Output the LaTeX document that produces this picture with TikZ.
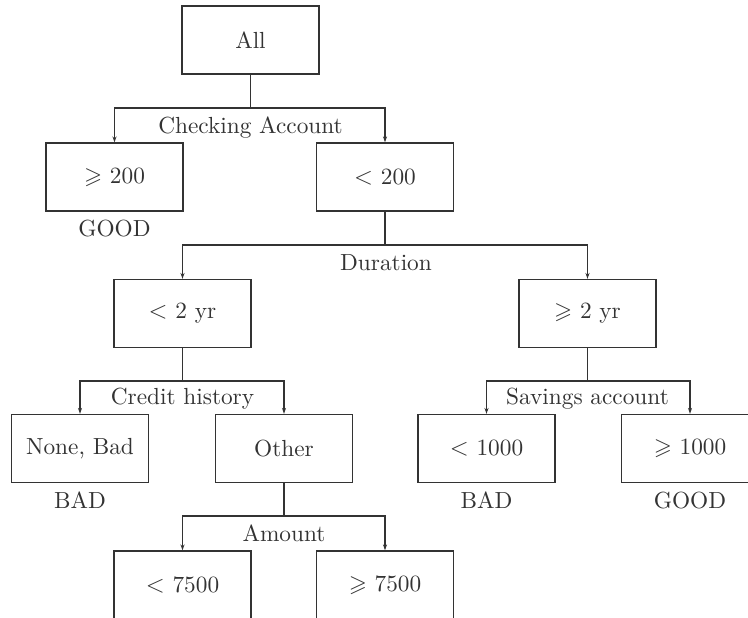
\documentclass[tikz,border=0pt]{standalone}
\usepackage{amssymb}
\usepackage{fontspec}
\setmainfont{lmroman10-regular.otf}
\usetikzlibrary{arrows.meta}
\begin{document}
\begin{tikzpicture}[x=1pt,y=-1pt,
  every node/.style={font=\fontsize{23.3}{28}\selectfont, text=black!80},
  box/.style={draw=black!80, line width=1.1pt, minimum width=137pt, minimum height=68pt, inner sep=0pt},
  lbl/.style={anchor=base, inner sep=0pt},
  conn/.style={draw=black!80, line width=1.1pt},
  arr/.style={conn, -{Stealth[length=6pt,width=4pt]}}]
\useasboundingbox (0,0) rectangle (748,618);
% nodes
\node[box] (all) at (250.5,40) {All};
\node[box] (ge200) at (114.5,177) {$\geqslant$ 200};
\node[box] (lt200) at (385,177) {$<$ 200};
\node[box] (lt2) at (182.5,313.5) {$<$ 2 yr};
\node[box] (ge2) at (587.5,313.5) {$\geqslant$ 2 yr};
\node[box] (nb) at (80,448.5) {None, Bad};
\node[box] (other) at (284,448.5) {Other};
\node[box] (lt1000) at (486.5,448.5) {$<$ 1000};
\node[box] (ge1000) at (690,448.5) {$\geqslant$ 1000};
\node[box] (lt7500) at (182.5,585) {$<$ 7500};
\node[box] (ge7500) at (385,585) {$\geqslant$ 7500};
% labels
\node[lbl] (lca) at (250.5,133) {Checking Account};
\node[lbl] (ldu) at (386,270.5) {Duration};
\node[lbl] (lch) at (182.5,404) {Credit history};
\node[lbl] (lsa) at (587.5,404) {Savings account};
\node[lbl] (lam) at (284,541.5) {Amount};
\node[lbl] (g1) at (114.5,236.5) {GOOD};
\node[lbl] (b1) at (80,508) {BAD};
\node[lbl] (b2) at (486.5,508) {BAD};
\node[lbl] (g2) at (690,508) {GOOD};
% junctions
\coordinate (j1) at (250.5,108);
\coordinate (j2) at (385,245);
\coordinate (j3) at (182.5,381);
\coordinate (j4) at (587.5,381);
\coordinate (j5) at (284,516);
% connectors
\draw[conn] (all.south) -- (j1);
\draw[arr] (j1) -| (ge200.north);
\draw[arr] (j1) -| (lt200.north);
\draw[conn] (lt200.south) -- (j2);
\draw[arr] (j2) -| (lt2.north);
\draw[arr] (j2) -| (ge2.north);
\draw[conn] (lt2.south) -- (j3);
\draw[arr] (j3) -| (nb.north);
\draw[arr] (j3) -| (other.north);
\draw[conn] (ge2.south) -- (j4);
\draw[arr] (j4) -| (lt1000.north);
\draw[arr] (j4) -| (ge1000.north);
\draw[conn] (other.south) -- (j5);
\draw[arr] (j5) -| (lt7500.north);
\draw[arr] (j5) -| (ge7500.north);
\end{tikzpicture}
\end{document}
